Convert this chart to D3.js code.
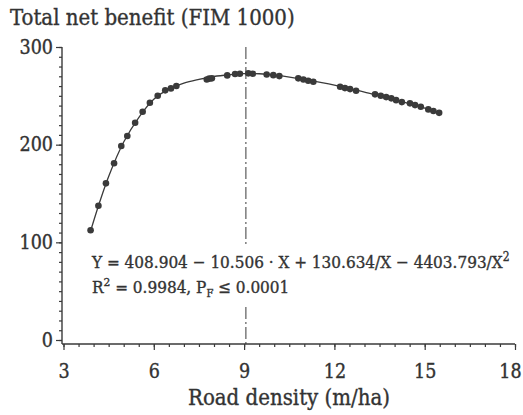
<!DOCTYPE html>
<html>
<head>
<meta charset="utf-8">
<script src="https://cdn.jsdelivr.net/npm/d3@7"></script>
<style>
  body { margin: 0; background: #fff; }
  text { font-family: "DejaVu Serif", serif; font-stretch: condensed; fill: #333; stroke: #333; stroke-width: 0.35; }
</style>
</head>
<body>
<svg id="chart" width="523" height="415"></svg>
<script>
// observed points
const densityX = [3.90, 4.16, 4.41, 4.68, 4.92, 5.12, 5.38, 5.63, 5.87, 6.13, 6.38, 6.57, 6.75,
  7.76, 7.84, 7.93, 8.44, 8.70, 8.86, 9.14, 9.29, 9.75, 9.97, 10.17,
  10.80, 10.97, 11.13, 11.30, 12.19, 12.35, 12.52, 12.72,
  13.35, 13.54, 13.72, 13.89, 14.05, 14.24, 14.51, 14.68, 14.87, 15.12, 15.29, 15.48];
const benefitY = [112.3, 137.5, 160.4, 180.9, 198.6, 208.8, 222.4, 233.7, 242.9, 250.1, 255.6, 257.6, 260.0,
  266.8, 267.6, 267.9, 270.9, 272.3, 272.6, 273.0, 272.6, 271.9, 271.2, 270.2,
  267.9, 266.8, 265.4, 264.4, 259.3, 257.9, 256.9, 255.2,
  251.5, 250.1, 248.7, 247.4, 245.6, 243.6, 242.3, 240.5, 238.8, 236.1, 234.4, 232.6];

// fitted curve
const fitX = [3.9, 4.2, 4.5, 5, 5.5, 6, 6.5, 7, 7.5, 8, 8.5, 9, 9.5, 10, 11, 12, 13, 14, 15, 15.5];
const fitY = [111.6, 141, 167.5, 202.7, 227.8, 246.5, 256.8, 263, 266.8, 269.8, 271.6, 272.8, 272.6, 271.4, 266.6, 261.0, 253.8, 246.2, 237.5, 232.9];

const optimumX = 9.06;
const xTicks = [3, 6, 9, 12, 15, 18];
const yTicks = [0, 100, 200, 300];

const title = 'Total net benefit (FIM 1000)';
const xTitle = 'Road density (m/ha)';

const svg = d3.select('#chart');
const ink = '#3a3a3a';

const x = d3.scaleLinear([3, 18], [63.5, 515]);
const y = d3.scaleLinear([0, 300], [340, 47]);
const axisY = 344, axisX = 62;

/*
Axes
*/
const xMajor = svg.append('g').attr('transform', `translate(0,${axisY})`)
  .call(d3.axisBottom(x).tickValues(xTicks).tickSize(6).tickPadding(14).tickFormat(d3.format('d')));
const xMinor = svg.append('g').attr('transform', `translate(0,${axisY})`)
  .call(d3.axisBottom(x).tickValues(d3.range(3, 18.01, 0.5)).tickSize(3).tickFormat(''));
const yMajor = svg.append('g').attr('transform', `translate(${axisX},0)`)
  .call(d3.axisLeft(y).tickValues(yTicks).tickSize(6).tickPadding(3));
const yMinor = svg.append('g').attr('transform', `translate(${axisX},0)`)
  .call(d3.axisLeft(y).tickValues(d3.range(0, 301, 10)).tickSize(3).tickFormat(''));

[xMajor, xMinor, yMajor, yMinor].forEach(g => {
  g.select('.domain').remove();
  g.selectAll('line').attr('stroke', ink).attr('stroke-width', 1.2);
  g.selectAll('text').attr('fill', '#333').style('font-size', '19.5px').attr('font-family', null);
});
// last x label sits a little inside the frame
xMajor.selectAll('text').filter(d => d === 18).attr('dx', -5);

svg.append('line')
  .attr('x1', axisX).attr('x2', x(18)).attr('y1', axisY).attr('y2', axisY)
  .attr('stroke', ink).attr('stroke-width', 1.4);
svg.append('line')
  .attr('x1', axisX).attr('x2', axisX).attr('y1', y(300)).attr('y2', axisY)
  .attr('stroke', ink).attr('stroke-width', 1.4);

/*
Optimum marker
*/
svg.append('line')
  .attr('x1', x(optimumX)).attr('x2', x(optimumX))
  .attr('y1', y(300)).attr('y2', axisY)
  .attr('stroke', ink).attr('stroke-width', 1)
  .attr('stroke-dasharray', '12,3,2,3');

/*
Fitted curve and points
*/
const line = d3.line()
  .curve(d3.curveCatmullRom)
  .x(d => x(d[0]))
  .y(d => y(d[1]));

svg.append('path')
  .datum(d3.zip(fitX, fitY))
  .attr('d', line)
  .attr('fill', 'none')
  .attr('stroke', ink)
  .attr('stroke-width', 1.3);

svg.selectAll('circle.pt')
  .data(d3.zip(densityX, benefitY))
  .join('circle')
  .attr('class', 'pt')
  .attr('cx', d => x(d[0]))
  .attr('cy', d => y(d[1]))
  .attr('r', 3.3)
  .attr('fill', ink);

/*
Equation box
*/
svg.append('rect')
  .attr('x', 86).attr('y', 247).attr('width', 434).attr('height', 57)
  .attr('fill', '#fff');

const eq = svg.append('text')
  .attr('x', 92).attr('y', 268)
  .style('font-size', '17px')
  .style('white-space', 'pre');
eq.append('tspan').text('Y = 408.904 \u2212 10.506 \u00b7 X + 130.634/X \u2212 4403.793/X');
eq.append('tspan').attr('dy', -7).style('font-size', '12px').text('2');

// squeeze the equation to the width it takes in the figure
let fs = 17;
while (eq.node().getComputedTextLength() > 422 && fs > 10) {
  fs -= 0.25;
  eq.style('font-size', fs + 'px');
  eq.select('tspan:last-child').style('font-size', (fs * 0.7) + 'px');
}

const r2 = svg.append('text')
  .attr('x', 92).attr('y', 293)
  .style('font-size', fs + 'px')
  .style('white-space', 'pre');
r2.append('tspan').text('R');
r2.append('tspan').attr('dy', -7).style('font-size', (fs * 0.7) + 'px').text('2');
r2.append('tspan').attr('dy', 7).text(' = 0.9984, P');
r2.append('tspan').attr('dy', 4).style('font-size', (fs * 0.65) + 'px').text('F');
r2.append('tspan').attr('dy', -4).text(' \u2264 0.0001');

/*
Titles
*/
svg.append('text')
  .attr('x', 10).attr('y', 25)
  .style('font-size', '22px')
  .text(title);

svg.append('text')
  .attr('x', 289).attr('y', 405)
  .attr('text-anchor', 'middle')
  .style('font-size', '22px')
  .text(xTitle);
</script>
</body>
</html>
